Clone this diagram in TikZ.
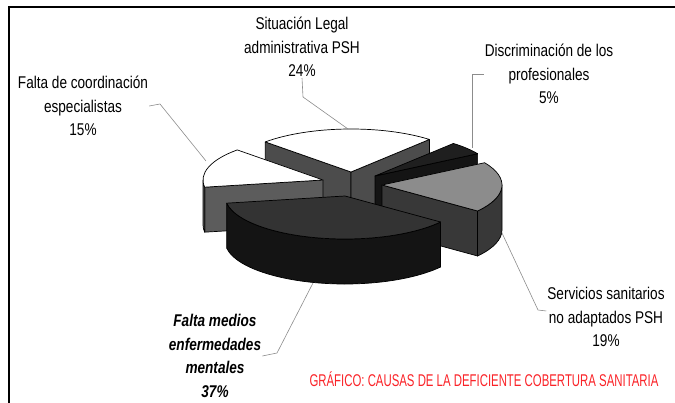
\documentclass[tikz,border=0pt]{standalone}
\usepackage{fontspec}
\setmainfont{Liberation Sans}[FakeStretch=0.8]
\newfontfamily\titlefont{Liberation Sans}[FakeStretch=0.67]
\definecolor{titlered}{RGB}{250,35,40}

\begin{document}
\begin{tikzpicture}[x=1pt,y=-1pt]
      \tikzset{
        rim/.style={x radius=120pt,y radius=43pt},
        face/.style={draw=black,line width=0.7pt,line join=round},
        lead/.style={draw=black!45,line width=0.6pt},
        lbl/.style={align=center,inner sep=1pt,font=\fontsize{17}{23.5}\selectfont}
      }

      \useasboundingbox (0,0) rectangle (675,403);
      \draw[line width=2.5pt] (675,7) -| (9,403);

      \coordinate (s1) at (351,172);
      \coordinate (s2) at (375,176);
      \coordinate (s3) at (382,185);
      \coordinate (s4) at (345,196);
      \coordinate (s5) at (323,180);

      \filldraw[face,fill=black!70] (s1) -- ++(135.6:120pt and 43pt) -- ++(0,45) -- ++(315.6:120pt and 43pt) -- cycle;
      \filldraw[face,fill=black!70] (s1) -- ++(49.2:120pt and 43pt) -- ++(0,45) -- ++(229.2:120pt and 43pt) -- cycle;
      \filldraw[face,fill=white] (s1) -- ++(135.6:120pt and 43pt) arc[rim,start angle=135.6,end angle=49.2] -- cycle;

      \filldraw[face,fill=black!92] (s2) -- ++(31.2:120pt and 43pt) -- ++(0,45) -- ++(211.2:120pt and 43pt) -- cycle;
      \filldraw[face,fill=black!88] (s2) -- ++(49.2:120pt and 43pt) arc[rim,start angle=49.2,end angle=31.2] -- cycle;

      \filldraw[face,fill=black!64] (s5) -- ++(189.6:120pt and 43pt) -- ++(0,45) -- ++(9.6:120pt and 43pt) -- cycle;
      \filldraw[face,fill=black!64] (s5) ++(180:120pt and 43pt) arc[rim,start angle=180,end angle=189.6] -- ++(0,45) arc[rim,start angle=189.6,end angle=180] -- cycle;
      \filldraw[face,fill=white] (s5) -- ++(189.6:120pt and 43pt) arc[rim,start angle=189.6,end angle=135.6] -- cycle;

      \filldraw[face,fill=black!78] (s3) -- ++(-37.2:120pt and 43pt) -- ++(0,45) -- ++(142.8:120pt and 43pt) -- cycle;
      \filldraw[face,fill=black!78] (s3) ++(0:120pt and 43pt) arc[rim,start angle=0,end angle=-37.2] -- ++(0,45) arc[rim,start angle=-37.2,end angle=0] -- cycle;
      \filldraw[face,fill=black!45] (s3) -- ++(31.2:120pt and 43pt) arc[rim,start angle=31.2,end angle=-37.2] -- cycle;

      \filldraw[face,fill=black!92] (s4) ++(-37.2:120pt and 43pt) arc[rim,start angle=-37.2,end angle=-170.4] -- ++(0,45) arc[rim,start angle=-170.4,end angle=-37.2] -- cycle;
      \filldraw[face,fill=black!80] (s4) -- ++(-37.2:120pt and 43pt) arc[rim,start angle=-37.2,end angle=-170.4] -- cycle;

      \node[lbl] (l5) at (83,106) {Falta de coordinación\\especialistas\\15\%};
      \node[lbl] (l1) at (302,47) {Situación Legal\\administrativa PSH\\24\%};
      \node[lbl] (l2) at (549,74) {Discriminación de los\\profesionales\\5\%};
      \node[lbl] (l3) at (606,317) {Servicios sanitarios\\no adaptados PSH\\19\%};
      \node[lbl,font=\fontsize{17}{23.5}\selectfont\bfseries\itshape] (l4) at (215,356) {Falta medios\\enfermedades\\mentales\\37\%};
      \node[text=titlered,inner sep=0pt,font=\titlefont\fontsize{17}{18}\selectfont] (t) at (484,379) {GRÁFICO: CAUSAS DE LA DEFICIENTE COBERTURA SANITARIA};

      \coordinate (k5) at (160,104);
      \coordinate (p5) at (206,161);
      \coordinate (k1) at (303,97);
      \coordinate (p1) at (348,129);
      \coordinate (k2) at (472,74);
      \coordinate (p2) at (472,148);
      \coordinate (k3) at (538,310);
      \coordinate (p3) at (502,233);
      \coordinate (k4) at (277,353);
      \coordinate (p4) at (313,283);

      \draw[lead] (l5.east) -- (k5) -- (p5);
      \draw[lead] (l1.south) -- (k1) -- (p1);
      \draw[lead] (l2.west) -- (k2) -- (p2);
      \draw[lead] ([yshift=6pt]l3.west) -- (k3) -- (p3);
      \draw[lead] (l4.east) -- (k4) -- (p4);
\end{tikzpicture}
\end{document}
